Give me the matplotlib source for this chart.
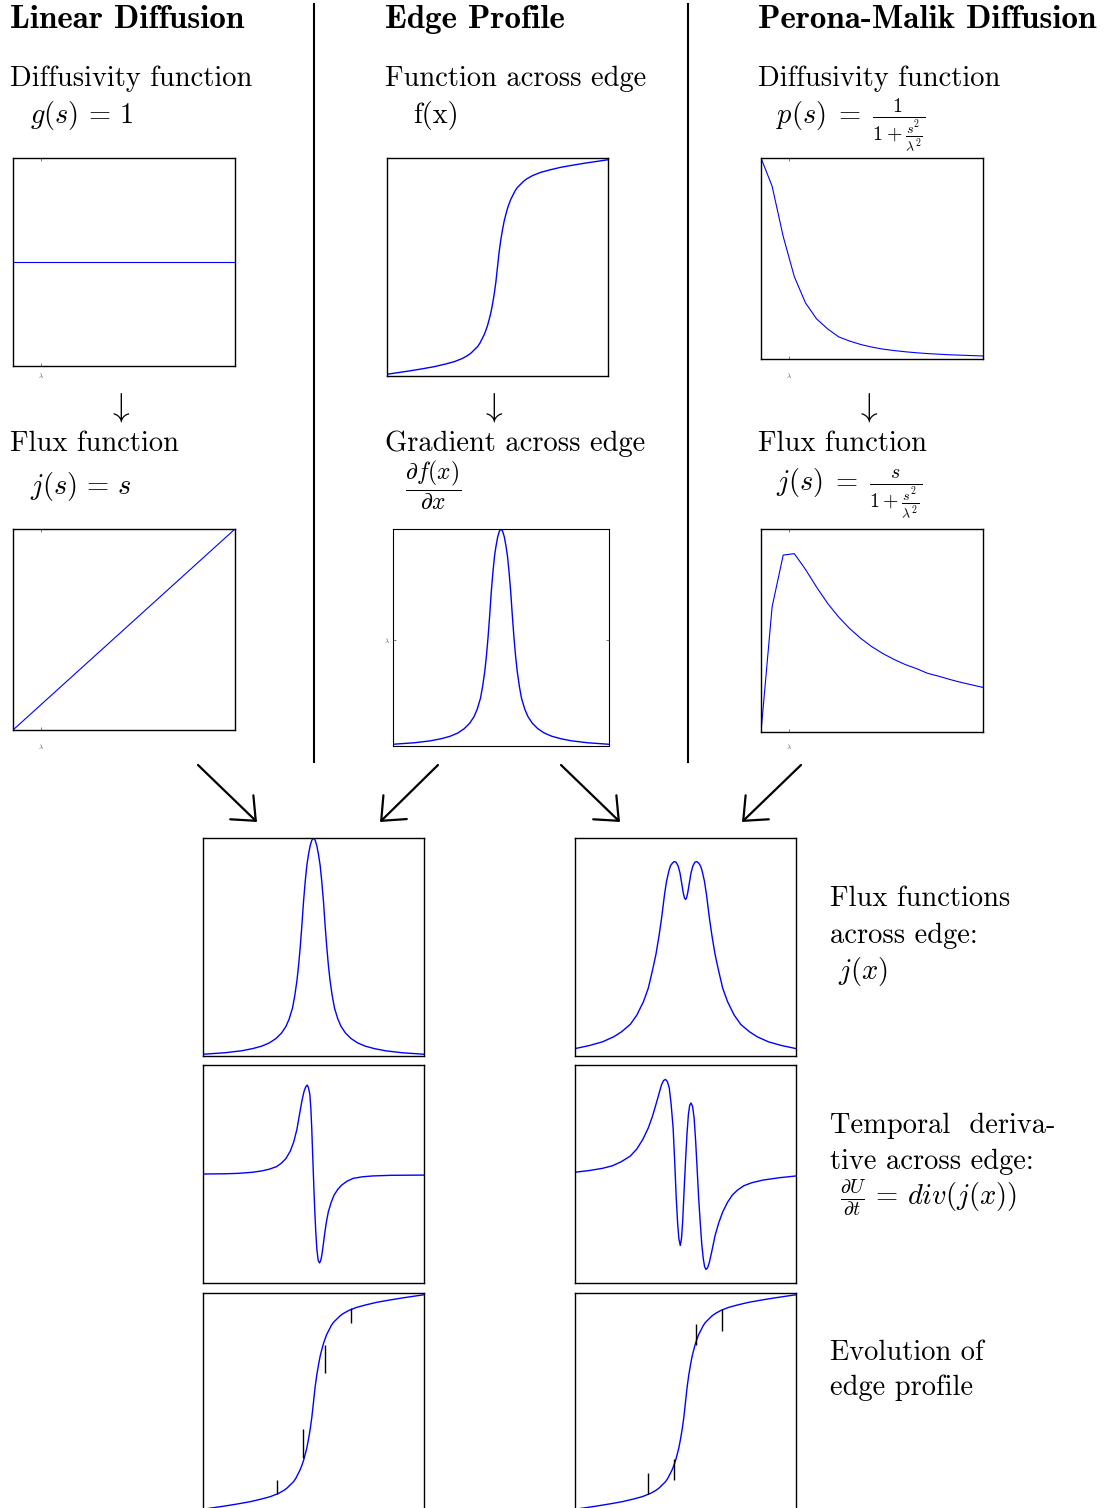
import numpy as np
import matplotlib.pyplot as plt
from matplotlib.lines import Line2D
from matplotlib.patches import FancyArrowPatch

plt.rcParams['font.family'] = 'cmr10'
plt.rcParams['mathtext.fontset'] = 'cm'
plt.rcParams['axes.unicode_minus'] = False

W, H = 1104, 1508
BLUE = '#0000ff'

# ---- data ----
# linear diffusion (s in units where lambda = 1)
s_lin = [0, 8]
g_lin = [1, 1]
j_lin = [0, 8]

# perona-malik, coarse samples
s_pm = [0, 0.4, 0.8, 1.2, 1.6, 2.0, 2.4, 2.8, 3.2, 3.6, 4.0,
        4.4, 4.8, 5.2, 5.6, 6.0, 6.4, 6.8, 7.2, 7.6, 8.0]
p_pm = [1.0, 0.86, 0.61, 0.41, 0.28, 0.20, 0.15, 0.11, 0.089, 0.072, 0.059,
        0.049, 0.042, 0.036, 0.031, 0.027, 0.024, 0.021, 0.019, 0.017, 0.015]
j_pm = [0.0, 0.345, 0.488, 0.492, 0.449, 0.40, 0.355, 0.317, 0.285, 0.258, 0.235,
        0.216, 0.200, 0.186, 0.175, 0.162, 0.154, 0.145, 0.137, 0.130, 0.123]
lam = 1.0

# edge profile f(x)
x_edge = [-10, -8, -6.8, -5.7, -4.7, -3.9, -3.2, -2.7, -2.4, -2.1, -1.8, -1.6, -1.4,
          -1.2, -1.05, -0.9, -0.75, -0.6, -0.45, -0.3, -0.15, 0,
          0.15, 0.3, 0.45, 0.6, 0.75, 0.9, 1.05, 1.2, 1.4, 1.6, 1.8, 2.1, 2.4,
          2.7, 3.2, 3.9, 4.7, 5.7, 6.8, 8, 10]
f_edge = [0.008, 0.023, 0.033, 0.043, 0.055, 0.066, 0.08, 0.094, 0.105, 0.12, 0.135, 0.15, 0.17,
          0.19, 0.21, 0.232, 0.26, 0.29, 0.33, 0.375, 0.43, 0.5,
          0.57, 0.625, 0.67, 0.71, 0.74, 0.768, 0.79, 0.81, 0.83, 0.85, 0.865, 0.88, 0.895,
          0.906, 0.92, 0.934, 0.945, 0.957, 0.967, 0.977, 0.992]

# gradient across edge (= linear flux across edge)
x_grad = [-10, -8, -6.5, -5.5, -4.7, -4.0, -3.4, -2.9, -2.5, -2.2, -1.9, -1.7, -1.5, -1.35,
          -1.2, -1.05, -0.9, -0.75, -0.6, -0.45, -0.3, -0.15, 0,
          0.15, 0.3, 0.45, 0.6, 0.75, 0.9, 1.05, 1.2, 1.35, 1.5, 1.7, 1.9, 2.2,
          2.5, 2.9, 3.4, 4.0, 4.7, 5.5, 6.5, 8, 10]
grad = [0.008, 0.015, 0.024, 0.034, 0.045, 0.06, 0.08, 0.105, 0.135, 0.17, 0.22, 0.275, 0.345, 0.415,
        0.5, 0.6, 0.71, 0.8, 0.875, 0.925, 0.965, 0.99, 1.0,
        0.99, 0.965, 0.925, 0.875, 0.8, 0.71, 0.6, 0.5, 0.415, 0.345, 0.275, 0.22, 0.17,
        0.135, 0.105, 0.08, 0.06, 0.045, 0.034, 0.024, 0.015, 0.008]
lam_grad = 0.49

# perona-malik flux across edge
x_fpm = [-10, -8.7, -7.51, -6.5, -5.79, -5.0, -4.4, -3.8, -3.37, -3.0, -2.68, -2.4, -2.16, -1.9,
         -1.71, -1.5, -1.36, -1.2, -1.02, -0.85, -0.67, -0.5, -0.33, -0.2, -0.1, 0,
         0.1, 0.2, 0.33, 0.5, 0.67, 0.85, 1.02, 1.2, 1.36, 1.5, 1.71, 1.9, 2.16,
         2.4, 2.68, 3.0, 3.37, 3.8, 4.4, 5.0, 5.79, 6.5, 7.51, 8.7, 10]
flux_pm = [0.034, 0.048, 0.065, 0.088, 0.111, 0.145, 0.188, 0.25, 0.311, 0.39, 0.465, 0.55, 0.634, 0.74,
           0.803, 0.85, 0.872, 0.884, 0.892, 0.889, 0.872, 0.84, 0.788, 0.748, 0.726, 0.718,
           0.726, 0.748, 0.788, 0.84, 0.872, 0.889, 0.892, 0.884, 0.872, 0.85, 0.803, 0.74, 0.634,
           0.55, 0.465, 0.39, 0.311, 0.25, 0.188, 0.145, 0.111, 0.088, 0.065, 0.048, 0.034]

# temporal derivatives
x_dlin = [-10, -8, -6.8, -5.5, -4.7, -4, -3.34, -2.9, -2.48, -2.1, -1.78, -1.5, -1.27, -1.05,
          -0.85, -0.7, -0.57, -0.45, -0.33, -0.24, -0.16, -0.09, -0.02, 0.05, 0.12, 0.2,
          0.3, 0.42, 0.54, 0.65, 0.75, 0.87, 0.99, 1.15, 1.34, 1.6, 1.86, 2.2, 2.55,
          3.0, 3.59, 4.4, 5.32, 7, 10]
dlin = [0.5, 0.501, 0.503, 0.508, 0.514, 0.522, 0.534, 0.55, 0.572, 0.605, 0.649, 0.705, 0.772, 0.835,
        0.88, 0.90, 0.908, 0.895, 0.865, 0.8, 0.711, 0.61, 0.511, 0.415, 0.326, 0.24,
        0.157, 0.105, 0.092, 0.102, 0.126, 0.17, 0.218, 0.275, 0.326, 0.37, 0.403, 0.43, 0.449,
        0.466, 0.48, 0.487, 0.491, 0.494, 0.495]
x_dpm = [-10, -8.7, -7.51, -6.6, -5.79, -5.0, -4.4, -3.85, -3.37, -3.0, -2.68, -2.4, -2.16,
         -1.98, -1.81, -1.64, -1.47, -1.3, -1.12, -0.98, -0.85, -0.72, -0.6, -0.47, -0.36,
         -0.26, -0.13, 0, 0.13, 0.26, 0.38, 0.5, 0.64, 0.78, 0.92, 1.05, 1.19, 1.33, 1.47,
         1.61, 1.73, 1.85, 2.0, 2.16, 2.4, 2.68, 3.0, 3.37, 3.8, 4.23, 4.7, 5.27, 6.0,
         7.0, 8.5, 10]
dpm = [0.508, 0.516, 0.526, 0.538, 0.557, 0.582, 0.615, 0.66, 0.711, 0.763, 0.818, 0.868, 0.911,
       0.929, 0.934, 0.924, 0.895, 0.82, 0.711, 0.56, 0.403, 0.28, 0.203, 0.172, 0.205,
       0.280, 0.42, 0.557, 0.68, 0.772, 0.815, 0.826, 0.81, 0.757, 0.65, 0.526, 0.39, 0.280, 0.18,
       0.111, 0.075, 0.062, 0.07, 0.095, 0.15, 0.218, 0.275, 0.326, 0.37, 0.403, 0.426, 0.446, 0.46,
       0.472, 0.483, 0.491]

# evolution marks (x, start on curve, end)
ev_lin_x = [-3.31, -0.97, 1.03, 3.39]
ev_lin_y0 = [0.077, 0.242, 0.76, 0.93]
ev_lin_y1 = [0.141, 0.375, 0.632, 0.861]
ev_pm_x = [-3.37, -1.01, 0.98, 3.33]
ev_pm_y0 = [0.077, 0.24, 0.76, 0.928]
ev_pm_y1 = [0.174, 0.141, 0.86, 0.826]


def px_ax(fig, l, t, r, b):
    return fig.add_axes([l / W, 1 - b / H, (r - l) / W, (b - t) / H])


def bare(ax):
    ax.set_xticks([])
    ax.set_yticks([])
    for sp in ax.spines.values():
        sp.set_linewidth(1.0)


def lam_xtick(ax, pad=5):
    ax.set_yticks([])
    ax.set_xticks([lam])
    ax.set_xticklabels([r'$\lambda$'])
    ax.tick_params(axis='x', direction='in', length=2, width=0.5, top=True,
                   labelsize=5, pad=pad, colors='#444444')
    for sp in ax.spines.values():
        sp.set_linewidth(1.0)
        sp.set_color('black')


def ftext(x, y, s, **kw):
    fig.text(x / W, 1 - y / H, s, va='center', ha='left', **kw)


fig = plt.figure(figsize=(W / 100, H / 100), dpi=100)

# top row
ax = px_ax(fig, 13, 158, 235, 366)
ax.plot(s_lin, g_lin, color=BLUE, lw=0.8)
ax.set_xlim(0, 8)
ax.set_ylim(0, 2)
lam_xtick(ax, pad=4)

ax = px_ax(fig, 387, 158, 608, 376)
ax.plot(x_edge, f_edge, color=BLUE, lw=1.0)
ax.set_xlim(-10, 10)
ax.set_ylim(0, 1)
bare(ax)

ax = px_ax(fig, 761, 158, 983, 359)
ax.plot(s_pm, p_pm, color=BLUE, lw=0.8)
ax.set_xlim(0, 8)
ax.set_ylim(0, 1)
lam_xtick(ax, pad=9)

# second row
ax = px_ax(fig, 13, 529, 235, 730)
ax.plot(s_lin, j_lin, color=BLUE, lw=0.8)
ax.set_xlim(0, 8)
ax.set_ylim(0, 8)
lam_xtick(ax, pad=9)

ax = px_ax(fig, 393, 529, 609, 746)
ax.plot(x_grad, grad, color=BLUE, lw=1.0)
ax.set_xlim(-10, 10)
ax.set_ylim(0, 1)
ax.set_xticks([])
ax.set_yticks([lam_grad])
ax.set_yticklabels([r'$\lambda$'])
ax.tick_params(axis='y', direction='in', length=2, width=0.5, right=True,
               labelsize=5, pad=2, colors='#444444')
for sp in ax.spines.values():
    sp.set_color('black')

ax = px_ax(fig, 761, 529, 983, 732)
ax.plot(s_pm, j_pm, color=BLUE, lw=0.8)
ax.set_xlim(0, 8)
ax.set_ylim(0, 0.56)
lam_xtick(ax, pad=8)

# bottom grid
colA, colB = (203, 424), (575, 796)
rows = [(838, 1056), (1065, 1283), (1293, 1511)]

ax = px_ax(fig, colA[0], rows[0][0], colA[1], rows[0][1])
ax.plot(x_grad, grad, color=BLUE, lw=1.0)
ax.set_xlim(-10, 10); ax.set_ylim(0, 1); bare(ax)

ax = px_ax(fig, colB[0], rows[0][0], colB[1], rows[0][1])
ax.plot(x_fpm, flux_pm, color=BLUE, lw=1.0)
ax.set_xlim(-10, 10); ax.set_ylim(0, 1); bare(ax)

ax = px_ax(fig, colA[0], rows[1][0], colA[1], rows[1][1])
ax.plot(x_dlin, dlin, color=BLUE, lw=1.0)
ax.set_xlim(-10, 10); ax.set_ylim(0, 1); bare(ax)

ax = px_ax(fig, colB[0], rows[1][0], colB[1], rows[1][1])
ax.plot(x_dpm, dpm, color=BLUE, lw=1.0)
ax.set_xlim(-10, 10); ax.set_ylim(0, 1); bare(ax)

ax = px_ax(fig, colA[0], rows[2][0], colA[1], rows[2][1])
ax.plot(x_edge, f_edge, color=BLUE, lw=1.0)
ax.vlines(ev_lin_x, ev_lin_y0, ev_lin_y1, color='black', lw=1.0)
ax.set_xlim(-10, 10); ax.set_ylim(0, 1); bare(ax)

ax = px_ax(fig, colB[0], rows[2][0], colB[1], rows[2][1])
ax.plot(x_edge, f_edge, color=BLUE, lw=1.0)
ax.vlines(ev_pm_x, ev_pm_y0, ev_pm_y1, color='black', lw=1.0)
ax.set_xlim(-10, 10); ax.set_ylim(0, 1); bare(ax)

# dividers
for xd in (314, 688):
    fig.add_artist(Line2D([xd / W, xd / W], [1 - 4 / H, 1 - 762 / H],
                          transform=fig.transFigure, color='black', lw=1.5))

# diagonal arrows
for (x1, y1, x2, y2) in [(198, 765, 257, 822), (438, 765, 380, 822),
                         (561, 765, 620, 822), (801, 765, 742, 822)]:
    fig.add_artist(FancyArrowPatch((x1 / W, 1 - y1 / H), (x2 / W, 1 - y2 / H),
                                   transform=fig.transFigure,
                                   arrowstyle='->,head_length=0.7,head_width=0.6',
                                   mutation_scale=20, lw=1.6, color='black',
                                   shrinkA=0, shrinkB=0))

# texts
TS = 20.5
bold = dict(fontsize=23.8, family='cmb10')
ftext(10, 20, 'Linear Diffusion', **bold)
ftext(385, 20, 'Edge Profile', **bold)
ftext(758, 20, 'Perona-Malik Diffusion', **bold)

ftext(10, 79, 'Diffusivity function', fontsize=TS)
ftext(385, 79, 'Function across edge', fontsize=TS)
ftext(758, 79, 'Diffusivity function', fontsize=TS)
ftext(30, 116, r'$g(s)\, =\, 1$', fontsize=TS)
ftext(413, 116, 'f(x)', fontsize=TS)
ftext(776, 125, r'$p(s)\;=\;\frac{1}{1+\frac{s^2}{\lambda^2}}$', fontsize=TS)

for xa in (119, 492, 867):
    fig.text(xa / W, 1 - 407 / H, r'$\downarrow$', fontsize=24, ha='center', va='center')

ftext(10, 444, 'Flux function', fontsize=TS)
ftext(385, 444, 'Gradient across edge', fontsize=TS)
ftext(758, 444, 'Flux function', fontsize=TS)
ftext(30, 487, r'$j(s)\, =\, s$', fontsize=TS)
ftext(405, 485, r'$\dfrac{\partial f(x)}{\partial x}$', fontsize=17)
ftext(776, 493, r'$j(s)\;=\;\frac{s}{1+\frac{s^2}{\lambda^2}}$', fontsize=TS)

ftext(830, 899, 'Flux functions', fontsize=TS)
ftext(830, 936, 'across edge:', fontsize=TS)
ftext(838, 972, r'$j(x)$', fontsize=TS)

ftext(830, 1126, 'Temporal  deriva-', fontsize=TS)
ftext(830, 1162, 'tive across edge:', fontsize=TS)
ftext(840, 1198, r'$\frac{\partial U}{\partial t}\, =\, div(j(x))$', fontsize=TS)

ftext(830, 1353, 'Evolution of', fontsize=TS)
ftext(830, 1388, 'edge profile', fontsize=TS)

fig.savefig('out.png', dpi=100)
